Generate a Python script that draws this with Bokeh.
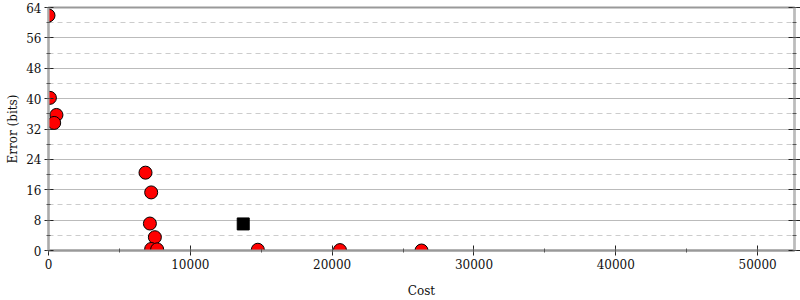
from bokeh.plotting import figure
from bokeh.models import SingleIntervalTicker, LinearAxis, Range1d, CustomJSTickFormatter
from bokeh.embed import file_html
from bokeh.resources import INLINE

# Data
cost = [0, 100, 560, 400, 6840, 7240, 7150, 7500, 7240, 7660, 14760, 20550, 26300]
error = [61.9, 40.2, 35.7, 33.6, 20.5, 15.3, 7.1, 3.5, 0.4, 0.3, 0.2, 0.1, 0.0]
best_cost = [13730]
best_error = [7.0]

x_max = 52600
y_max = 64

FONT = "DejaVu Serif"

p = figure(width=800, height=300, output_backend="svg", toolbar_location=None,
           x_range=Range1d(0, x_max), y_range=Range1d(0, y_max),
           min_border_left=48, min_border_right=6, min_border_top=7, min_border_bottom=50,
           x_axis_label="Cost", y_axis_label="Error (bits)")
p.background_fill_color = "white"
p.border_fill_color = "white"
p.outline_line_color = "#999999"
p.outline_line_width = 2

xt = SingleIntervalTicker(interval=10000, num_minor_ticks=2)
yt = SingleIntervalTicker(interval=8, num_minor_ticks=2)
p.xaxis.ticker = xt
p.yaxis.ticker = yt

for ax in (p.xaxis[0], p.yaxis[0]):
    ax.axis_line_color = "#aaaaaa"
    ax.axis_line_width = 2
    ax.major_tick_line_color = "#222222"
    ax.minor_tick_line_color = "#555555"
    ax.major_tick_in = 5
    ax.major_tick_out = 5
    ax.minor_tick_in = 2
    ax.minor_tick_out = 2
    ax.major_label_text_font = FONT
    ax.major_label_text_font_size = "12px"
    ax.major_label_text_color = "#111111"
    ax.axis_label_text_font = FONT
    ax.axis_label_text_font_size = "12px"
    ax.axis_label_text_font_style = "normal"
    ax.axis_label_text_color = "#111111"
    ax.major_label_standoff = 3

p.xaxis[0].axis_line_color = "#999999"
p.xaxis[0].axis_label_standoff = 12
p.yaxis[0].axis_label_standoff = 3
p.yaxis[0].major_label_standoff = 3
p.yaxis[0].major_tick_out = 4

right = LinearAxis(ticker=SingleIntervalTicker(interval=8, num_minor_ticks=2),
                   formatter=CustomJSTickFormatter(code="return ''"))
right.axis_line_color = "#bbbbbb"
right.axis_line_width = 2
right.major_tick_line_color = "#222222"
right.minor_tick_line_color = "#555555"
right.major_tick_in = 6
right.major_tick_out = 6
right.minor_tick_in = 2
right.minor_tick_out = 2
right.major_label_standoff = 0
p.add_layout(right, "right")

p.xgrid.grid_line_color = None
p.ygrid.grid_line_color = "#bbbbbb"
p.ygrid.grid_line_width = 1
p.ygrid.minor_grid_line_color = "#cccccc"
p.ygrid.minor_grid_line_dash = "5 4"
p.ygrid.minor_grid_line_width = 1

p.scatter(cost, error, size=13, marker="circle", fill_color="#ff0000",
          line_color="#000000", line_width=1)
p.scatter(best_cost, best_error, size=12, marker="square", fill_color="#000000",
          line_color="#000000")

open("out.html", "w").write(file_html(p, INLINE))
